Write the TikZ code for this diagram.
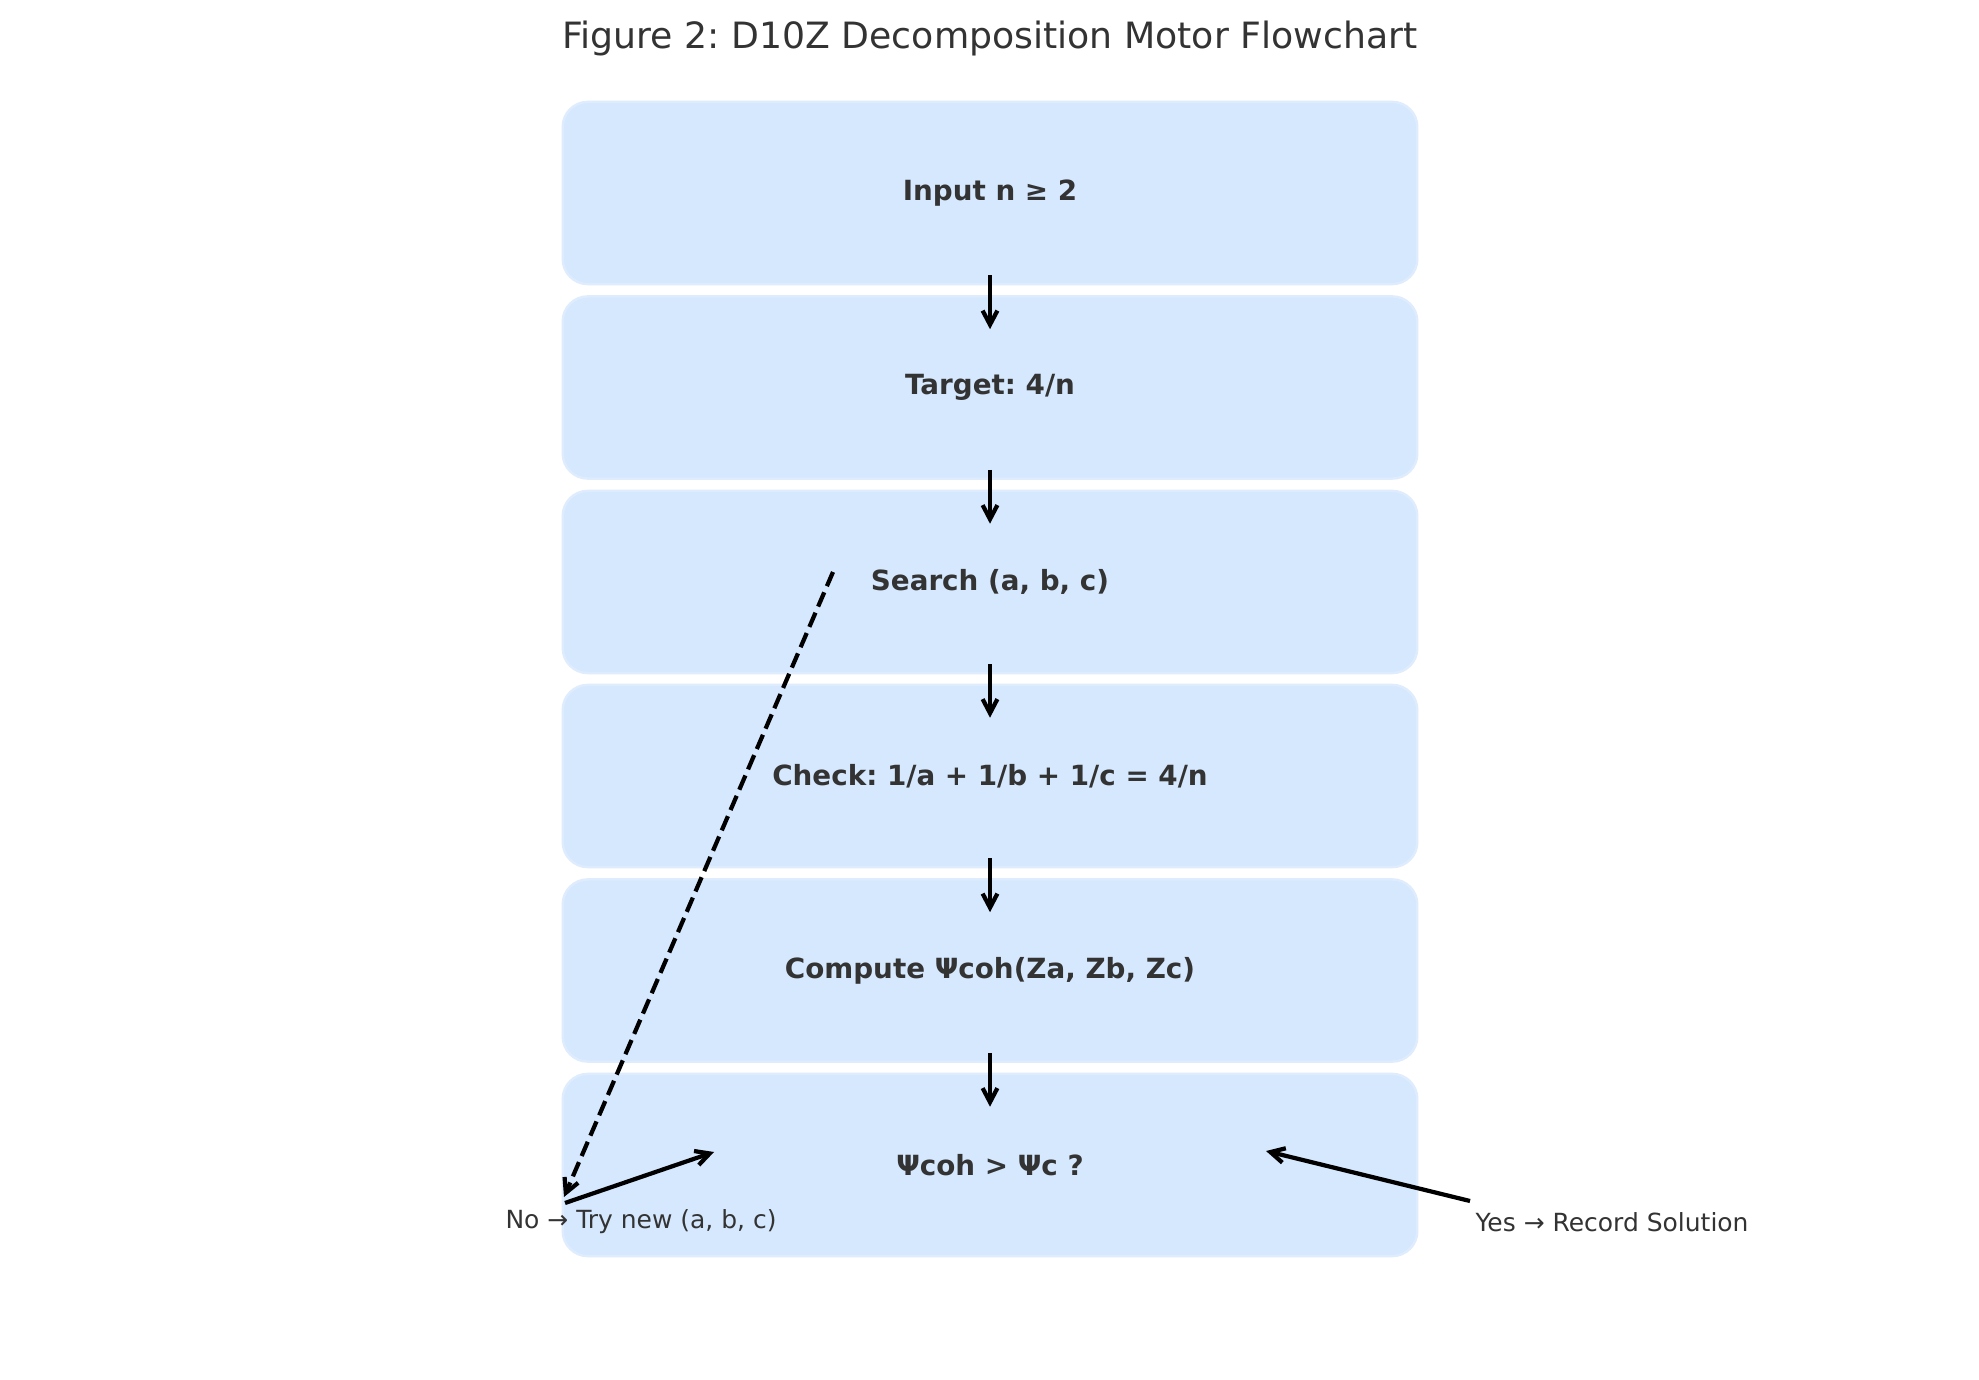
\documentclass[tikz,border=0pt]{standalone}
\usepackage{fontspec}
\setmainfont{DejaVu Sans}
\usetikzlibrary{arrows.meta,calc}
\definecolor{boxfill}{RGB}{213,232,254}
\definecolor{boxedge}{RGB}{222,236,253}
\definecolor{txt}{RGB}{51,51,51}
\frenchspacing
\begin{document}
\begin{tikzpicture}[x=0.01cm,y=-0.01cm,
  stepbox/.style={rectangle, rounded corners=0.25cm, fill=boxfill, draw=boxedge, line width=0.7pt,
    minimum width=8.54cm, minimum height=1.82cm, inner sep=0pt,
    font=\bfseries\fontsize{7.9}{9.5}\selectfont, text=txt},
  arr/.style={-{Straight Barb[length=4pt,width=4.2pt]}, line width=1.2pt, black},
  dasharr/.style={arr, dash pattern=on 4.4pt off 1.9pt},
  lbl/.style={font=\fontsize{7.1}{8.5}\selectfont, text=txt, inner sep=0pt},
  ttl/.style={font=\fontsize{10.3}{12.5}\selectfont, text=txt, inner sep=0pt}]
\useasboundingbox (0,0) rectangle (1979,1380);
\fill[white] (0,0) rectangle (1979,1380);

\node[ttl] (title) at (990,39) {Figure 2: D10Z Decomposition Motor Flowchart};

\node[stepbox] (b1) at (990,193) {Input n ≥ 2};
\node[stepbox] (b2) at (990,387.5) {Target: 4/n};
\node[stepbox] (b3) at (990,582) {Search (a, b, c)};
\node[stepbox] (b4) at (990,776) {Check: 1/a + 1/b + 1/c = 4/n};
\node[stepbox] (b5) at (990,970.5) {Compute Ψcoh(Za, Zb, Zc)};
\node[stepbox] (b6) at (990,1165) {Ψcoh > Ψc ?};

\foreach \a/\b in {b1/b2,b2/b3,b3/b4,b4/b5,b5/b6}{
  \draw[arr] ($(\a.south)+(0,-10)$) -- ($(\b.north)+(0,34)$);
}

\node[lbl] (nolbl) at (641,1222) {No → Try new (a, b, c)};
\node[lbl] (yeslbl) at (1612,1222) {Yes → Record Solution};

\coordinate (dstart) at (833,572);
\coordinate (dend) at (564,1197);
\coordinate (nostart) at (565,1203);
\coordinate (noend) at (714,1152);
\coordinate (yesstart) at (1470,1201);
\coordinate (yesend) at (1266,1151);

\draw[dasharr] (dstart) -- (dend);
\draw[arr] (nostart) -- (noend);
\draw[arr] (yesstart) -- (yesend);
\end{tikzpicture}
\end{document}
